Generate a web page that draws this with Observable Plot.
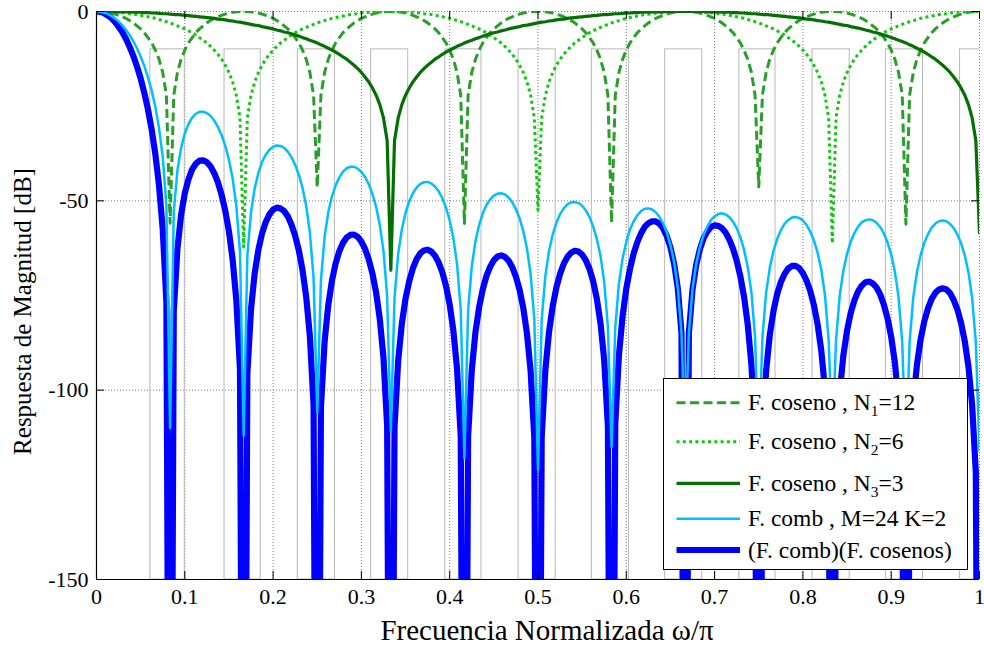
<!DOCTYPE html>
<html lang="es">
<head>
<meta charset="utf-8">
<title>Respuesta de magnitud</title>
<script src="https://cdn.jsdelivr.net/npm/d3@7"></script>
<script src="https://cdn.jsdelivr.net/npm/@observablehq/plot@0.6"></script>
<style>
  html, body { margin: 0; padding: 0; background: #fff; }
  #figure { position: relative; width: 984px; height: 647px; overflow: hidden; }
</style>
</head>
<body>
<div id="figure"></div>
<script>
// Frequency axis: samples every 1/240 of ω/π, from 0 to 1 (241 samples per curve).
const FREQ_STEP = 1 / 240;

const xTicks = [0, 0.1, 0.2, 0.3, 0.4, 0.5, 0.6, 0.7, 0.8, 0.9, 1];
const yTicks = [0, -50, -100, -150];

// Folding bands around each multiple of 1/12 (thin grey outlines)
const bandLo = [0.061, 0.145, 0.228, 0.311, 0.395, 0.478, 0.561, 0.644, 0.728, 0.811, 0.894, 0.978];
const bandHi = [0.100, 0.186, 0.270, 0.353, 0.436, 0.520, 0.603, 0.686, 0.769, 0.853, 0.936, 1.019];
const bandTopDb = -10;

// Cosine filter, N1 = 12 (dB)
const cosN1Db = [
  0, 0, -0.1, -0.2, -0.4, -0.7, -1, -1.4, -1.8, -2.4, -3, -3.8, -4.6, -5.6, -6.9, -8.3, -10.2, -12.6, -16.1, -22.1,
  -55.9, -22.1, -16.1, -12.6, -10.2, -8.3, -6.9, -5.6, -4.6, -3.8, -3, -2.4, -1.8, -1.4, -1, -0.7, -0.4, -0.2, -0.1, 0,
  0, 0, -0.1, -0.2, -0.4, -0.7, -1, -1.4, -1.8, -2.4, -3, -3.8, -4.6, -5.6, -6.9, -8.3, -10.2, -12.6, -16.1, -22.1,
  -46.4, -22.1, -16.1, -12.6, -10.2, -8.3, -6.9, -5.6, -4.6, -3.8, -3, -2.4, -1.8, -1.4, -1, -0.7, -0.4, -0.2, -0.1, 0,
  0, 0, -0.1, -0.2, -0.4, -0.7, -1, -1.4, -1.8, -2.4, -3, -3.8, -4.6, -5.6, -6.9, -8.3, -10.2, -12.6, -16.1, -22.1,
  -56.0, -22.1, -16.1, -12.6, -10.2, -8.3, -6.9, -5.6, -4.6, -3.8, -3, -2.4, -1.8, -1.4, -1, -0.7, -0.4, -0.2, -0.1, 0,
  0, 0, -0.1, -0.2, -0.4, -0.7, -1, -1.4, -1.8, -2.4, -3, -3.8, -4.6, -5.6, -6.9, -8.3, -10.2, -12.6, -16.1, -22.1,
  -55.8, -22.1, -16.1, -12.6, -10.2, -8.3, -6.9, -5.6, -4.6, -3.8, -3, -2.4, -1.8, -1.4, -1, -0.7, -0.4, -0.2, -0.1, 0,
  0, 0, -0.1, -0.2, -0.4, -0.7, -1, -1.4, -1.8, -2.4, -3, -3.8, -4.6, -5.6, -6.9, -8.3, -10.2, -12.6, -16.1, -22.1,
  -46.3, -22.1, -16.1, -12.6, -10.2, -8.3, -6.9, -5.6, -4.6, -3.8, -3, -2.4, -1.8, -1.4, -1, -0.7, -0.4, -0.2, -0.1, 0,
  0, 0, -0.1, -0.2, -0.4, -0.7, -1, -1.4, -1.8, -2.4, -3, -3.8, -4.6, -5.6, -6.9, -8.3, -10.2, -12.6, -16.1, -22.1,
  -56.2, -22.1, -16.1, -12.6, -10.2, -8.3, -6.9, -5.6, -4.6, -3.8, -3, -2.4, -1.8, -1.4, -1, -0.7, -0.4, -0.2, -0.1, 0,
  0
];

// Cosine filter, N2 = 6 (dB)
const cosN2Db = [
  0, 0, 0, -0.1, -0.1, -0.2, -0.2, -0.3, -0.4, -0.6, -0.7, -0.8, -1, -1.2, -1.4, -1.6, -1.8, -2.1, -2.4, -2.7,
  -3, -3.4, -3.8, -4.2, -4.6, -5.1, -5.6, -6.2, -6.9, -7.6, -8.3, -9.2, -10.2, -11.3, -12.6, -14.2, -16.1, -18.6, -22.1, -28.1,
  -62.2,
  -28.1, -22.1, -18.6, -16.1, -14.2, -12.6, -11.3, -10.2, -9.2, -8.3, -7.6, -6.9, -6.2, -5.6, -5.1, -4.6, -4.2, -3.8, -3.4, -3,
  -2.7, -2.4, -2.1, -1.8, -1.6, -1.4, -1.2, -1, -0.8, -0.7, -0.6, -0.4, -0.3, -0.2, -0.2, -0.1, -0.1, 0, 0,
  0, 0, 0, -0.1, -0.1, -0.2, -0.2, -0.3, -0.4, -0.6, -0.7, -0.8, -1, -1.2, -1.4, -1.6, -1.8, -2.1, -2.4, -2.7,
  -3, -3.4, -3.8, -4.2, -4.6, -5.1, -5.6, -6.2, -6.9, -7.6, -8.3, -9.2, -10.2, -11.3, -12.6, -14.2, -16.1, -18.6, -22.1, -28.1,
  -52.5,
  -28.1, -22.1, -18.6, -16.1, -14.2, -12.6, -11.3, -10.2, -9.2, -8.3, -7.6, -6.9, -6.2, -5.6, -5.1, -4.6, -4.2, -3.8, -3.4, -3,
  -2.7, -2.4, -2.1, -1.8, -1.6, -1.4, -1.2, -1, -0.8, -0.7, -0.6, -0.4, -0.3, -0.2, -0.2, -0.1, -0.1, 0, 0,
  0, 0, 0, -0.1, -0.1, -0.2, -0.2, -0.3, -0.4, -0.6, -0.7, -0.8, -1, -1.2, -1.4, -1.6, -1.8, -2.1, -2.4, -2.7,
  -3, -3.4, -3.8, -4.2, -4.6, -5.1, -5.6, -6.2, -6.9, -7.6, -8.3, -9.2, -10.2, -11.3, -12.6, -14.2, -16.1, -18.6, -22.1, -28.1,
  -61.2,
  -28.1, -22.1, -18.6, -16.1, -14.2, -12.6, -11.3, -10.2, -9.2, -8.3, -7.6, -6.9, -6.2, -5.6, -5.1, -4.6, -4.2, -3.8, -3.4, -3,
  -2.7, -2.4, -2.1, -1.8, -1.6, -1.4, -1.2, -1, -0.8, -0.7, -0.6, -0.4, -0.3, -0.2, -0.2, -0.1, -0.1, 0, 0,
  0
];

// Cosine filter, N3 = 3 (dB)
const cosN3Db = [
  0, 0, 0, 0, 0, 0, -0.1, -0.1, -0.1, -0.1,
  -0.2, -0.2, -0.2, -0.3, -0.3, -0.4, -0.4, -0.5, -0.6, -0.6,
  -0.7, -0.8, -0.8, -0.9, -1, -1.1, -1.2, -1.3, -1.4, -1.5,
  -1.6, -1.7, -1.8, -2, -2.1, -2.2, -2.4, -2.5, -2.7, -2.8,
  -3, -3.2, -3.4, -3.6, -3.7, -4, -4.2, -4.4, -4.6, -4.9,
  -5.1, -5.4, -5.6, -5.9, -6.2, -6.5, -6.9, -7.2, -7.6, -7.9,
  -8.3, -8.8, -9.2, -9.7, -10.2, -10.7, -11.3, -12, -12.6, -13.4,
  -14.2, -15.1, -16.1, -17.3, -18.6, -20.2, -22.1, -24.6, -28.1, -34.1,
  -68.3,
  -34.1, -28.1, -24.6, -22.1, -20.2, -18.6, -17.3, -16.1, -15.1, -14.2,
  -13.4, -12.6, -12, -11.3, -10.7, -10.2, -9.7, -9.2, -8.8, -8.3,
  -7.9, -7.6, -7.2, -6.9, -6.5, -6.2, -5.9, -5.6, -5.4, -5.1,
  -4.9, -4.6, -4.4, -4.2, -4, -3.7, -3.6, -3.4, -3.2, -3,
  -2.8, -2.7, -2.5, -2.4, -2.2, -2.1, -2, -1.8, -1.7, -1.6,
  -1.5, -1.4, -1.3, -1.2, -1.1, -1, -0.9, -0.8, -0.8, -0.7,
  -0.6, -0.6, -0.5, -0.4, -0.4, -0.3, -0.3, -0.2, -0.2, -0.2,
  -0.1, -0.1, -0.1, -0.1, 0, 0, 0, 0, 0,
  0,
  0, 0, 0, 0, 0, -0.1, -0.1, -0.1, -0.1,
  -0.2, -0.2, -0.2, -0.3, -0.3, -0.4, -0.4, -0.5, -0.6, -0.6,
  -0.7, -0.8, -0.8, -0.9, -1, -1.1, -1.2, -1.3, -1.4, -1.5,
  -1.6, -1.7, -1.8, -2, -2.1, -2.2, -2.4, -2.5, -2.7, -2.8,
  -3, -3.2, -3.4, -3.6, -3.7, -4, -4.2, -4.4, -4.6, -4.9,
  -5.1, -5.4, -5.6, -5.9, -6.2, -6.5, -6.9, -7.2, -7.6, -7.9,
  -8.3, -8.8, -9.2, -9.7, -10.2, -10.7, -11.3, -12, -12.6, -13.4,
  -14.2, -15.1, -16.1, -17.3, -18.6, -20.2, -22.1, -24.6, -28.1, -34.1,
  -58.5
];

// Comb filter, M = 24, K = 2 (dB)
const combDb = [
  0, -0.1, -0.3, -0.6, -1.2, -1.8, -2.6, -3.6, -4.8, -6.2, -7.8, -9.7, -11.9, -14.4, -17.4, -20.9, -25.2, -30.8, -38.4, -51.2,
  -110, -52.9, -41.9, -36, -32.2, -29.7, -28, -27, -26.5, -26.5, -26.8, -27.6, -28.8, -30.5, -32.6, -35.5, -39.2, -44.1, -51.3, -63.5,
  -112, -64.4, -53, -46.7, -42.6, -39.7, -37.8, -36.5, -35.7, -35.4, -35.5, -36, -37, -38.5, -40.5, -43.1, -46.6, -51.4, -58.4, -70.5,
  -106, -71, -59.5, -53, -48.8, -45.9, -43.8, -42.3, -41.4, -41, -41, -41.5, -42.4, -43.7, -45.6, -48.2, -51.6, -56.3, -63.2, -75.2,
  -111, -75.6, -64, -57.5, -53.2, -50.1, -48, -46.5, -45.5, -45.1, -45, -45.4, -46.2, -47.5, -49.3, -51.8, -55.2, -59.9, -66.7, -78.7,
  -118, -79, -67.3, -60.7, -56.4, -53.3, -51.1, -49.6, -48.6, -48.1, -48, -48.3, -49.1, -50.4, -52.2, -54.6, -58, -62.6, -69.4, -81.3,
  -121, -81.5, -69.8, -63.2, -58.9, -55.8, -53.5, -52, -50.9, -50.4, -50.3, -50.6, -51.3, -52.5, -54.3, -56.8, -60.1, -64.6, -71.4, -83.3,
  -115, -83.5, -71.8, -65.2, -60.8, -57.6, -55.4, -53.8, -52.7, -52.1, -52, -52.3, -53, -54.2, -56, -58.4, -61.7, -66.2, -73, -84.9,
  -114, -85, -73.2, -66.6, -62.2, -59, -56.8, -55.1, -54.1, -53.5, -53.3, -53.6, -54.3, -55.5, -57.2, -59.6, -62.9, -67.4, -74.1, -86,
  -116, -86.1, -74.3, -67.7, -63.2, -60.1, -57.8, -56.1, -55.1, -54.4, -54.3, -54.5, -55.2, -56.4, -58.1, -60.5, -63.7, -68.2, -74.9, -86.8,
  -113, -86.9, -75.1, -68.4, -64, -60.8, -58.5, -56.8, -55.7, -55.1, -54.9, -55.1, -55.8, -56.9, -58.6, -61, -64.2, -68.7, -75.4, -87.3,
  -118, -87.3, -75.5, -68.8, -64.3, -61.1, -58.8, -57.1, -56, -55.4, -55.2, -55.4, -56.1, -57.2, -58.9, -61.2, -64.4, -68.9, -75.6, -87.4,
  -116
];

// Cascade: comb filter times the three cosine filters (dB)
const totalDb = [
  0, -0.1, -0.4, -1, -1.7, -2.7, -4, -5.4, -7.2, -9.3, -11.7, -14.5, -17.7, -21.5, -25.9, -31.2, -37.7, -46, -57.5, -76.6,
  -300, -79.2, -62.6, -53.7, -48, -44.3, -41.7, -40.2, -39.4, -39.3, -39.8, -40.9, -42.7, -45.1, -48.4, -52.6, -58.1, -65.5, -76.2, -94.5,
  -300, -95.7, -78.6, -69.1, -62.9, -58.6, -55.6, -53.6, -52.3, -51.8, -52, -52.7, -54.1, -56.3, -59.2, -63.1, -68.3, -75.4, -85.8, -103.9,
  -300, -104.6, -87.2, -77.5, -71.1, -66.5, -63.3, -61.1, -59.7, -59, -58.9, -59.5, -60.8, -62.7, -65.5, -69.2, -74.2, -81.2, -91.4, -109.4,
  -300, -109.8, -92.2, -82.4, -75.8, -71.2, -67.8, -65.4, -63.9, -63.1, -62.9, -63.4, -64.5, -66.3, -68.9, -72.5, -77.4, -84.3, -94.4, -112.2,
  -300, -112.4, -94.7, -84.7, -78.1, -73.3, -69.8, -67.4, -65.7, -64.7, -64.4, -64.8, -65.8, -67.5, -70, -73.5, -78.3, -85, -95, -112.6,
  -300, -112.5, -94.7, -84.6, -77.8, -72.9, -69.3, -66.6, -64.8, -63.7, -63.2, -63.4, -64.2, -65.7, -68, -71.3, -75.9, -82.4, -92.1, -109.6,
  -300, -108.9, -90.8, -80.4, -73.2, -68, -63.9, -60.9, -58.6, -56.9, -55.9, -55.4, -55.4, -56, -57.3, -59.3, -62.3, -66.6, -73.1, -84.9,
  -300, -85, -73.4, -66.9, -62.8, -59.9, -58.1, -56.9, -56.5, -56.6, -57.2, -58.4, -60.2, -62.6, -65.8, -69.9, -75.3, -82.6, -93.2, -111.4,
  -300, -112.4, -95, -85.4, -79.1, -74.6, -71.5, -69.3, -67.9, -67.2, -67.2, -67.8, -69.1, -71.1, -73.8, -77.6, -82.6, -89.6, -99.8, -117.8,
  -300, -118.2, -100.7, -90.8, -84.3, -79.6, -76.3, -73.9, -72.4, -71.5, -71.3, -71.8, -72.9, -74.7, -77.4, -81, -85.9, -92.7, -102.9, -120.7,
  -300, -120.9, -103.2, -93.3, -86.6, -81.8, -78.4, -75.9, -74.3, -73.4, -73.1, -73.4, -74.4, -76.2, -78.7, -82.3, -87.1, -93.8, -103.9, -121.6,
  -300
];

const SERIF = "'Liberation Serif', 'Times New Roman', Times, serif";

// Series styling, in legend order; `layer` sets the drawing order
const series = [
  {values: cosN1Db, head: "F. coseno , N", sub: "1", tail: "=12", color: "#28a028", width: 3, dash: "9,4.5", layer: 0},
  {values: cosN2Db, head: "F. coseno , N", sub: "2", tail: "=6", color: "#10c810", width: 3, dash: "3,3.3", layer: 1},
  {values: cosN3Db, head: "F. coseno , N", sub: "3", tail: "=3", color: "#047004", width: 3.2, dash: null, layer: 2},
  {values: combDb, head: "F. comb , M=24 K=2", sub: null, tail: "", color: "#00bfff", width: 2.5, dash: null, layer: 4},
  {values: totalDb, head: "(F. comb)(F. cosenos)", sub: null, tail: "", color: "#0000ff", width: 6.2, dash: null, layer: 3}
];

const sampled = (arr) => arr.map((db, i) => ({f: i * FREQ_STEP, db}));
const bands = bandLo.map((lo, k) => ({lo, hi: bandHi[k]}));

const grid = {stroke: "#7a7a7a", strokeWidth: 1, strokeDasharray: "1,2"};
const tickMark = {stroke: "#000", strokeWidth: 1};

const chart = Plot.plot({
  width: 984,
  height: 647,
  marginLeft: 96,
  marginRight: 5,
  marginTop: 11,
  marginBottom: 68,
  style: {fontFamily: SERIF, fontSize: "22px", color: "#000", background: "#fff", overflow: "visible"},
  x: {domain: [0, 1], ticks: xTicks, tickSize: 0, tickPadding: 9, tickFormat: (d) => String(d), label: null},
  y: {domain: [-150, 0], ticks: yTicks, tickSize: 0, tickPadding: 8, tickFormat: (d) => String(d), label: null},
  marks: [
    // dotted grid (also the top and right edges of the frame)
    Plot.ruleX(xTicks.slice(1), grid),
    Plot.ruleY(yTicks.slice(0, -1), grid),
    // folding bands
    Plot.rect(bands, {x1: "lo", x2: "hi", y1: -150, y2: bandTopDb, fill: "none", stroke: "#b8b8b8", strokeWidth: 1, clip: true}),
    // responses
    ...series.slice().sort((a, b) => a.layer - b.layer).map((s) =>
      Plot.line(sampled(s.values), {
        x: "f",
        y: "db",
        stroke: s.color,
        strokeWidth: s.width,
        strokeDasharray: s.dash ?? undefined,
        strokeLinecap: s.dash ? "butt" : "round",
        strokeLinejoin: "round",
        clip: true
      })
    ),
    // solid left and bottom edges
    Plot.ruleX([0], {stroke: "#000", strokeWidth: 1.2}),
    Plot.ruleY([-150], {stroke: "#000", strokeWidth: 1.2}),
    // inward tick marks on all four sides
    Plot.ruleX(xTicks, {...tickMark, y1: -150, y2: -150, insetTop: -8}),
    Plot.ruleX(xTicks, {...tickMark, y1: 0, y2: 0, insetBottom: -8}),
    Plot.ruleY(yTicks, {...tickMark, x1: 0, x2: 0, insetRight: -8}),
    Plot.ruleY(yTicks, {...tickMark, x1: 1, x2: 1, insetLeft: -8}),
    // axis titles
    Plot.text(["Frecuencia Normalizada ω/π"], {
      text: (d) => d, frameAnchor: "bottom", textAnchor: "middle", lineAnchor: "middle",
      dy: 51, dx: 9, fontSize: 29
    }),
    Plot.text(["Respuesta de Magnitud [dB]"], {
      text: (d) => d, frameAnchor: "left", textAnchor: "middle", lineAnchor: "middle",
      dx: -74, dy: 16, rotate: -90, fontSize: 25
    })
  ]
});

const figure = document.getElementById("figure");
figure.appendChild(chart);

// Legend box drawn over the lower-right of the plot area
const legendRowY = [24.7, 63.7, 105.3, 140.7, 172];
const legend = d3.create("svg")
  .attr("width", 305)
  .attr("height", 192)
  .style("position", "absolute")
  .style("left", "663px")
  .style("top", "378px");
legend.append("rect")
  .attr("x", 0.5).attr("y", 0.5)
  .attr("width", 304).attr("height", 191)
  .attr("fill", "#fff").attr("stroke", "#000").attr("stroke-width", 1);
series.forEach((s, k) => {
  const y = legendRowY[k];
  legend.append("line")
    .attr("x1", 13.5).attr("x2", 77)
    .attr("y1", y).attr("y2", y)
    .attr("stroke", s.color)
    .attr("stroke-width", s.width)
    .attr("stroke-dasharray", s.dash)
    .attr("stroke-linecap", "butt");
  const t = legend.append("text")
    .attr("x", 85).attr("y", y + 7.5)
    .attr("font-family", SERIF)
    .attr("font-size", 23.5)
    .attr("fill", "#000");
  t.append("tspan").text(s.head);
  if (s.sub) {
    t.append("tspan").attr("font-size", 15.5).attr("dy", 6).text(s.sub);
    t.append("tspan").attr("dy", -6).text(s.tail);
  }
});
figure.appendChild(legend.node());
</script>
</body>
</html>
